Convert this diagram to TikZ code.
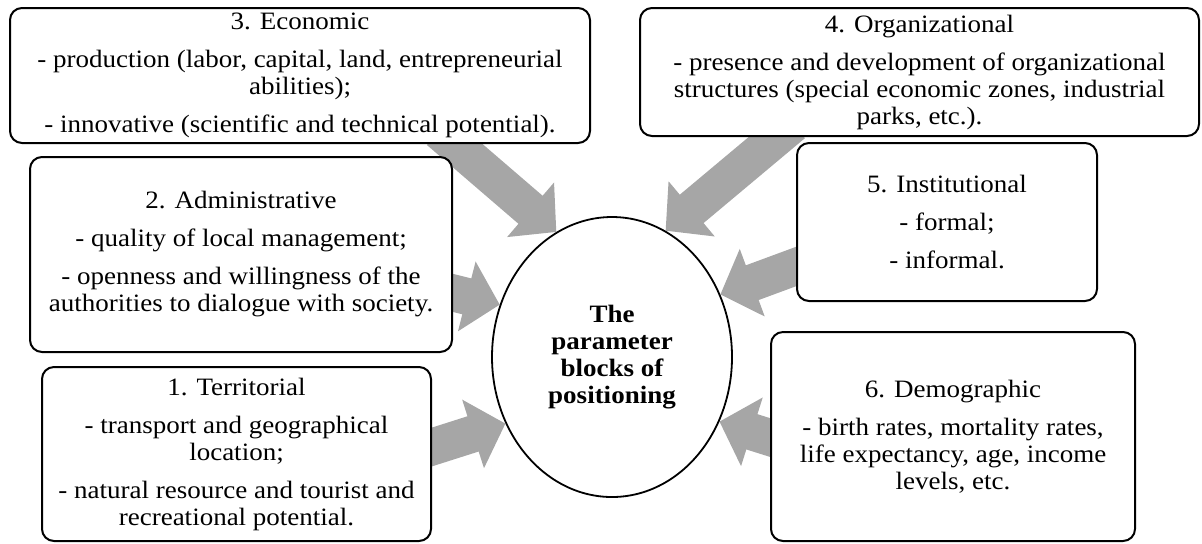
\documentclass[tikz,border=0pt]{standalone}
\usepackage{fontspec}
\setmainfont{Liberation Serif}[FakeStretch=1.08]
\usetikzlibrary{arrows.meta,shapes.geometric,backgrounds}
\definecolor{arrowgrey}{RGB}{166,166,166}

\begin{document}
\begin{tikzpicture}[
    x=0.5pt, y=-0.5pt,
    block/.style={rectangle, rounded corners=6pt, draw, line width=1pt, fill=white, align=center, inner sep=0pt, font=\fontsize{12.5}{13.5}\selectfont},
    hub/.style={ellipse, draw, line width=0.9pt, fill=white, minimum width=120pt, minimum height=140pt, inner sep=0pt, align=center, font=\fontsize{12.5}{13.5}\selectfont\bfseries},
    arrow/.style={draw=arrowgrey, line width=18.5pt, -{Triangle[length=17pt, width=35pt, fill=arrowgrey]}}
]
    \useasboundingbox (0,0) rectangle (1202,543);

    \node[hub] (centre) at (612,357) {The\\parameter\\blocks of\\positioning};

    \node[block, minimum width=290pt, minimum height=67.5pt] (econ) at (300,75.5)
        {3. Economic\\[5.5pt]- production (labor, capital, land, entrepreneurial\\abilities);\\[5.5pt]- innovative (scientific and technical potential).};
    \node[block, minimum width=211pt, minimum height=97.5pt] (admin) at (241,254.5)
        {2. Administrative\\[5.5pt]- quality of local management;\\[5.5pt]- openness and willingness of the\\authorities to dialogue with society.};
    \node[block, minimum width=194.5pt, minimum height=87pt] (terr) at (236.5,454)
        {1. Territorial\\[5.5pt]- transport and geographical\\location;\\[5.5pt]- natural resource and tourist and\\recreational potential.};
    \node[block, minimum width=279.5pt, minimum height=64pt] (org) at (919.5,72)
        {4. Organizational\\[5.5pt]- presence and development of organizational\\structures (special economic zones, industrial\\parks, etc.).};
    \node[block, minimum width=150pt, minimum height=79pt] (inst) at (947,222)
        {5. Institutional\\[5.5pt]- formal;\\[5.5pt]- informal.};
    \node[block, minimum width=182pt, minimum height=104.5pt] (demo) at (953,436.5)
        {6. Demographic\\[5.5pt]- birth rates, mortality rates,\\life expectancy, age, income\\levels, etc.};

    % block arrows sit behind the boxes
    \begin{scope}[on background layer]
        \draw[arrow] ([xshift=69.5pt, yshift=6.5pt]econ.south) -- (centre.114);
        \draw[arrow] ([xshift=-63.25pt, yshift=6.5pt]org.south) -- (centre.67);
        \draw[arrow] ([xshift=-9.7pt, yshift=-16.75pt]admin.east) -- (centre.155);
        \draw[arrow] ([xshift=-9.5pt, yshift=0.5pt]terr.east) -- (centre.212);
        \draw[arrow] ([xshift=9.5pt, yshift=-18.75pt]inst.west) -- (centre.30);
        \draw[arrow] ([xshift=9.5pt, yshift=-3.5pt]demo.west) -- (centre.329);
    \end{scope}
\end{tikzpicture}
\end{document}
